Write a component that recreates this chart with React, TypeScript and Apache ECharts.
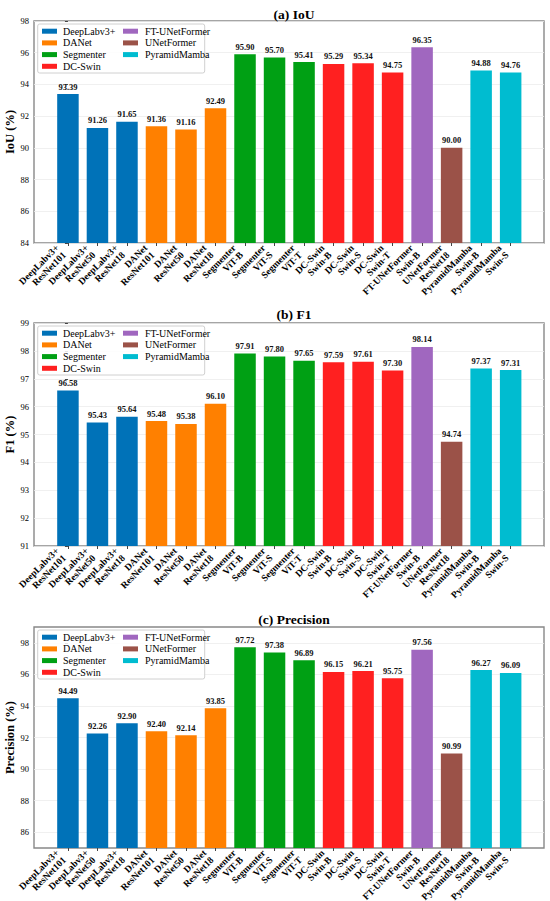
import React, { useEffect, useRef } from "react";
import * as echarts from "echarts";

const groupNames = ["DeepLabv3+", "DANet", "Segmenter", "DC-Swin", "FT-UNetFormer", "UNetFormer", "PyramidMamba"];
const groupColors = ["#0072B8", "#FF8000", "#00A014", "#FF2020", "#A067BF", "#9B5248", "#00BCD0"];
const modelGroup = [0, 0, 0, 1, 1, 1, 2, 2, 2, 3, 3, 3, 4, 5, 6, 6];
const backbones = ["ResNet101", "ResNet50", "ResNet18", "ResNet101", "ResNet50", "ResNet18", "ViT-B", "ViT-S", "ViT-T", "Swin-B", "Swin-S", "Swin-T", "Swin-B", "ResNet18", "Swin-B", "Swin-S"];

const iouValues = [93.39, 91.26, 91.65, 91.36, 91.16, 92.49, 95.9, 95.7, 95.41, 95.29, 95.34, 94.75, 96.35, 90.0, 94.88, 94.76];
const f1Values = [96.58, 95.43, 95.64, 95.48, 95.38, 96.1, 97.91, 97.8, 97.65, 97.59, 97.61, 97.3, 98.14, 94.74, 97.37, 97.31];
const precisionValues = [94.49, 92.26, 92.9, 92.4, 92.14, 93.85, 97.72, 97.38, 96.89, 96.15, 96.21, 95.75, 97.56, 90.99, 96.27, 96.09];

const iouTicks = [84, 86, 88, 90, 92, 94, 96, 98];
const f1Ticks = [91, 92, 93, 94, 95, 96, 97, 98, 99];
const precisionTicks = [86, 88, 90, 92, 94, 96, 98];

const panels = [
  { title: "(a) IoU", yName: "IoU (%)", values: iouValues, ticks: iouTicks, min: 84, max: 98 },
  { title: "(b) F1", yName: "F1 (%)", values: f1Values, ticks: f1Ticks, min: 91, max: 99 },
  { title: "(c) Precision", yName: "Precision (%)", values: precisionValues, ticks: precisionTicks, min: 85, max: 99 },
];

const FONT = "Liberation Serif";
const gridTops = [21, 323, 627];
const gridHeights = [222, 223, 221];
const titleTops = [2, 302, 607];
const xIdx = backbones.map((_, i) => i);

export default function App() {
  const ref = useRef<HTMLDivElement>(null);
  useEffect(() => {
    if (!ref.current) return;
    const chart = echarts.init(ref.current, undefined, { renderer: "svg" });
    const grids: any[] = [];
    const xAxes: any[] = [];
    const yAxes: any[] = [];
    const series: any[] = [];
    const titles: any[] = [];
    const graphics: any[] = [];
    panels.forEach((p, pi) => {
      const top = gridTops[pi];
      grids.push({
        left: 34, right: 6, top, height: gridHeights[pi],
        containLabel: false, outerBoundsMode: "none",
        show: true, borderColor: "#888", borderWidth: 1.4, backgroundColor: "transparent",
      });
      titles.push({
        text: p.title, left: 289, top: titleTops[pi], textAlign: "center",
        textStyle: { fontFamily: FONT, fontSize: 13.5, fontWeight: "bold", color: "#000" },
      });
      xAxes.push({
        type: "value", gridIndex: pi, min: -1.15, max: 16.13,
        axisLine: { show: false },
        splitLine: { show: false },
        axisTick: { show: true, length: 3, lineStyle: { color: "#444" }, customValues: xIdx },
        axisLabel: {
          customValues: xIdx, rotate: 45, margin: 14, fontFamily: FONT, fontSize: 9.5,
          fontWeight: "bold", color: "#000", lineHeight: 10, hideOverlap: false,
          showMinLabel: true, showMaxLabel: true,
          align: "right", verticalAlign: "bottom",
          formatter: (v: number) => {
            const i = Math.round(v);
            return `${groupNames[modelGroup[i]]}\n${backbones[i]}`;
          },
        },
      });
      yAxes.push({
        type: "value", gridIndex: pi, min: p.min, max: p.max,
        name: p.yName, nameLocation: "middle", nameRotate: 90, nameGap: 18,
        nameMoveOverlap: false,
        nameTextStyle: { fontFamily: FONT, fontSize: 12.5, fontWeight: "bold", color: "#000" },
        axisLine: { show: false },
        axisTick: { show: true, length: 3, lineStyle: { color: "#444" }, customValues: p.ticks },
        axisLabel: {
          customValues: p.ticks, margin: 5, fontFamily: FONT, fontSize: 8.5, color: "#000",
          showMinLabel: true, showMaxLabel: true, hideOverlap: false,
        },
        splitLine: { show: true, lineStyle: { color: "#ececec", width: 0.8 } },
      });
      groupNames.forEach((g, gi) => {
        const data = xIdx.filter((i) => modelGroup[i] === gi).map((i) => [i, p.values[i]]);
        series.push({
          type: "bar", name: g, xAxisIndex: pi, yAxisIndex: pi, data,
          barWidth: 21.5, barGap: "-100%",
          itemStyle: { color: groupColors[gi] },
          label: {
            show: true, position: "top", distance: 3, fontFamily: FONT, fontSize: 8.5,
            fontWeight: "bold", color: "#111",
            formatter: (d: any) => d.value[1].toFixed(2),
          },
        });
      });
      // legend box
      graphics.push({
        type: "rect", z: 3, silent: true,
        shape: { x: 37.7, y: top + 3, width: 167, height: 49, r: 2 },
        style: { fill: "rgba(255,255,255,0.85)", stroke: "#d0d0d0", lineWidth: 1 },
      });
      groupNames.forEach((g, gi) => {
        const col = gi < 4 ? 0 : 1;
        const row = gi < 4 ? gi : gi - 4;
        const cy = top + 10.2 + row * 11.7;
        graphics.push({
          type: "rect", z: 4, silent: true,
          shape: { x: 42 + col * 81, y: cy - 2.5, width: 15, height: 5 },
          style: { fill: groupColors[gi] },
        });
        graphics.push({
          type: "text", z: 4, silent: true, x: 63 + col * 82, y: cy,
          style: {
            text: g, fill: "#000", font: '10px "Liberation Serif"',
            verticalAlign: "middle", align: "left",
          },
        });
      });
    });
    chart.setOption({
      animation: false,
      backgroundColor: "#fff",
      textStyle: { fontFamily: FONT },
      title: titles,
      grid: grids,
      xAxis: xAxes,
      yAxis: yAxes,
      graphic: graphics,
      series,
    });
    return () => chart.dispose();
  }, []);
  return (
    <div
      ref={ref}
      style={{ position: "absolute", left: 0, top: 0, width: 550, height: 901 }}
    />
  );
}
